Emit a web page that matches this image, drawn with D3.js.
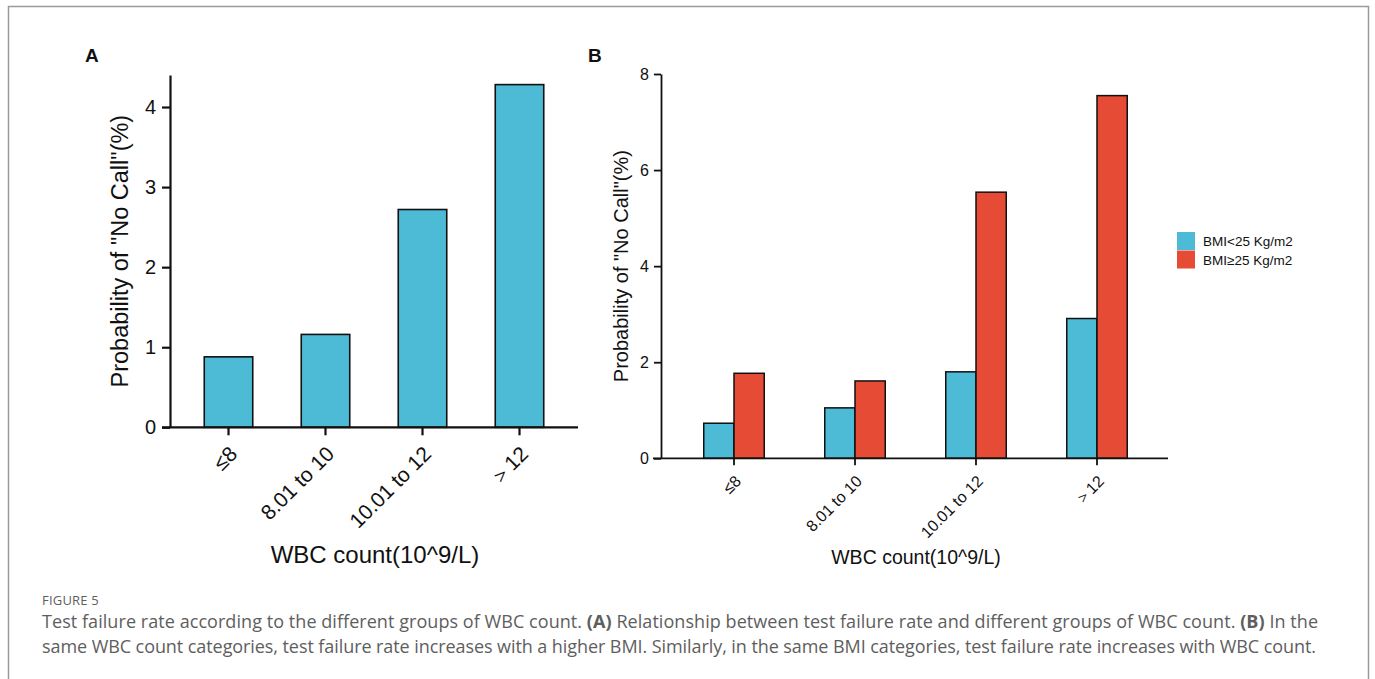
<!doctype html>
<html lang="en">
<head>
  <meta charset="utf-8">
  <title>Figure 5</title>
  <style>
    body { margin: 0; background: #fff; }
    /* chart text is Arial-like */
    .chart text { font-family: "Liberation Sans", Arial, sans-serif; fill: #111; }
    .caption { font-family: "Open Sans", sans-serif; fill: #5e5e5e; }
  </style>
</head>
<body>
  <div id="fig"></div>
  <script src="https://cdn.jsdelivr.net/npm/d3@7"></script>
  <script>
(function(){

  var width = 1375;
  var height = 679;

  // data
  var groups = ["≤8", "8.01 to 10", "10.01 to 12", "＞12"];
  var rateAll = [0.88, 1.16, 2.72, 4.28];
  var bmiSeries = ["BMI<25 Kg/m2", "BMI≥25 Kg/m2"];
  var rateBmiLow = [0.73, 1.05, 1.80, 2.91];
  var rateBmiHigh = [1.77, 1.61, 5.54, 7.55];
  var ticksA = [0, 1, 2, 3, 4];
  var ticksB = [0, 2, 4, 6, 8];

  var blue = "#4DBBD5";
  var red = "#E64B35";

  var svg = d3.select("#fig").append("svg")
      .attr("width", width)
      .attr("height", height);

  // page frame
  svg.append("rect")
      .attr("x", 8.5).attr("y", 6.5)
      .attr("width", 1360).attr("height", 720)
      .attr("fill", "none")
      .attr("stroke", "#9a9a9a")
      .attr("stroke-width", 1.5);

  var chart = svg.append("g").attr("class", "chart");

  // ---------- panel A ----------
  var ax = 170, aBase = 427.3;
  var xA = d3.scaleBand().domain(groups).range([180, 568]).paddingInner(0.5).paddingOuter(0.25);
  var yA = d3.scaleLinear().domain([0, 4.4]).range([aBase, 75]);

  var gA = chart.append("g");

  gA.selectAll("rect.bar")
    .data(groups)
    .enter().append("rect")
      .attr("class", "bar")
      .attr("x", function(d){ return xA(d); })
      .attr("width", xA.bandwidth())
      .attr("y", function(d, i){ return yA(rateAll[i]); })
      .attr("height", function(d, i){ return aBase - yA(rateAll[i]); })
      .attr("fill", blue)
      .attr("stroke", "#111")
      .attr("stroke-width", 1.6);

  var yAxisA = gA.append("g")
      .attr("transform", "translate(" + ax + ",0)")
      .call(d3.axisLeft(yA).tickValues(ticksA).tickFormat(d3.format("d"))
        .tickSize(8).tickSizeOuter(0).tickPadding(6));
  yAxisA.selectAll("path, line").attr("stroke", "#111").attr("stroke-width", 2.2);
  yAxisA.selectAll("text").attr("font-size", 20);

  var xAxisA = gA.append("g")
      .attr("transform", "translate(0," + aBase + ")")
      .call(d3.axisBottom(xA).tickSize(8).tickSizeOuter(0));
  xAxisA.select(".domain").remove();
  xAxisA.selectAll("line").attr("stroke", "#111").attr("stroke-width", 2.2);
  xAxisA.selectAll("text")
      .attr("font-size", 21)
      .attr("text-anchor", "end")
      .attr("x", 0).attr("y", 0).attr("dy", null)
      .attr("transform", "translate(10,28) rotate(-45)");
  gA.append("line")
      .attr("x1", ax - 8).attr("x2", 578)
      .attr("y1", aBase).attr("y2", aBase)
      .attr("stroke", "#111").attr("stroke-width", 2.2);

  gA.append("text")
      .attr("transform", "translate(128," + (aBase + 75) / 2 + ") rotate(-90)")
      .attr("text-anchor", "middle")
      .attr("font-size", 23.5)
      .text('Probability of "No Call"(%)');
  gA.append("text")
      .attr("x", 375).attr("y", 563)
      .attr("text-anchor", "middle")
      .attr("font-size", 24)
      .text("WBC count(10^9/L)");
  gA.append("text")
      .attr("x", 85).attr("y", 62)
      .attr("font-size", 19).attr("font-weight", "bold")
      .text("A");

  // ---------- panel B ----------
  var bx = 661, bBase = 458.3;
  var xB = d3.scaleBand().domain(groups).range([673.5, 1157.5]).paddingInner(0.5).paddingOuter(0.25);
  var xSub = d3.scaleBand().domain(bmiSeries).range([0, xB.bandwidth()]);
  var yB = d3.scaleLinear().domain([0, 8]).range([bBase, 74]);
  var colour = d3.scaleOrdinal().domain(bmiSeries).range([blue, red]);

  var gB = chart.append("g");

  var rows = groups.map(function(g, i){
    return [
      { group: g, series: bmiSeries[0], value: rateBmiLow[i] },
      { group: g, series: bmiSeries[1], value: rateBmiHigh[i] }
    ];
  });

  gB.selectAll("g.grp")
    .data(rows)
    .enter().append("g")
      .attr("class", "grp")
      .attr("transform", function(d){ return "translate(" + xB(d[0].group) + ",0)"; })
    .selectAll("rect")
    .data(function(d){ return d; })
    .enter().append("rect")
      .attr("x", function(d){ return xSub(d.series); })
      .attr("width", xSub.bandwidth())
      .attr("y", function(d){ return yB(d.value); })
      .attr("height", function(d){ return bBase - yB(d.value); })
      .attr("fill", function(d){ return colour(d.series); })
      .attr("stroke", "#111")
      .attr("stroke-width", 1.5);

  var yAxisB = gB.append("g")
      .attr("transform", "translate(" + bx + ",0)")
      .call(d3.axisLeft(yB).tickValues(ticksB).tickSize(7).tickSizeOuter(0).tickPadding(5));
  yAxisB.selectAll("path, line").attr("stroke", "#111").attr("stroke-width", 1.8);
  yAxisB.selectAll("text").attr("font-size", 16);

  var xAxisB = gB.append("g")
      .attr("transform", "translate(0," + bBase + ")")
      .call(d3.axisBottom(xB).tickSize(7).tickSizeOuter(0));
  xAxisB.select(".domain").remove();
  xAxisB.selectAll("line").attr("stroke", "#111").attr("stroke-width", 1.8);
  xAxisB.selectAll("text")
      .attr("font-size", 16)
      .attr("text-anchor", "end")
      .attr("x", 0).attr("y", 0).attr("dy", null)
      .attr("transform", "translate(8,24) rotate(-45)");
  gB.append("line")
      .attr("x1", bx - 8).attr("x2", 1168)
      .attr("y1", bBase).attr("y2", bBase)
      .attr("stroke", "#111").attr("stroke-width", 1.8);

  gB.append("text")
      .attr("transform", "translate(628," + (bBase + 74) / 2 + ") rotate(-90)")
      .attr("text-anchor", "middle")
      .attr("font-size", 20)
      .text('Probability of "No Call"(%)');
  gB.append("text")
      .attr("x", 916).attr("y", 564)
      .attr("text-anchor", "middle")
      .attr("font-size", 19.5)
      .text("WBC count(10^9/L)");
  gB.append("text")
      .attr("x", 588).attr("y", 62)
      .attr("font-size", 19).attr("font-weight", "bold")
      .text("B");

  // legend
  var legend = gB.append("g").attr("transform", "translate(1177,232)");
  var item = legend.selectAll("g")
    .data(bmiSeries)
    .enter().append("g")
      .attr("transform", function(d, i){ return "translate(0," + i * 18.5 + ")"; });
  item.append("rect")
      .attr("width", 18).attr("height", 18)
      .attr("fill", function(d){ return colour(d); });
  item.append("text")
      .attr("x", 26).attr("y", 14)
      .attr("font-size", 13.5)
      .text(function(d){ return d; });

  // ---------- caption ----------
  var cap = svg.append("g").attr("class", "caption");
  cap.append("text")
      .attr("x", 42).attr("y", 605)
      .attr("font-size", 13)
      .attr("letter-spacing", 0.2)
      .text("FIGURE 5");
  var line1 = cap.append("text").attr("x", 42).attr("y", 628).attr("font-size", 18)
      .attr("textLength", 1276).attr("lengthAdjust", "spacing");
  line1.append("tspan").text("Test failure rate according to the different groups of WBC count. ");
  line1.append("tspan").attr("font-weight", "bold").text("(A)");
  line1.append("tspan").text(" Relationship between test failure rate and different groups of WBC count. ");
  line1.append("tspan").attr("font-weight", "bold").text("(B)");
  line1.append("tspan").text(" In the");
  cap.append("text").attr("x", 42).attr("y", 653).attr("font-size", 18)
      .attr("textLength", 1274).attr("lengthAdjust", "spacing")
      .text("same WBC count categories, test failure rate increases with a higher BMI. Similarly, in the same BMI categories, test failure rate increases with WBC count.");

})();
  </script>
</body>
</html>
